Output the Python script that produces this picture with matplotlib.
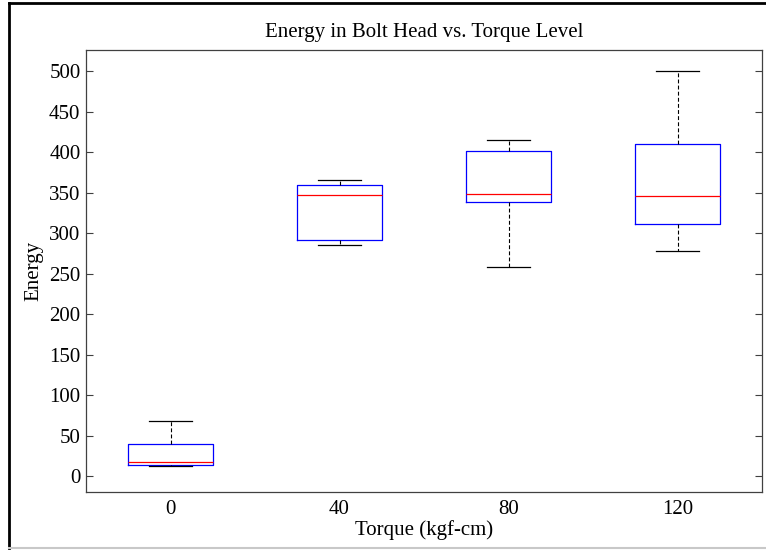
import matplotlib
matplotlib.use("Agg")
import matplotlib.pyplot as plt
from matplotlib.lines import Line2D

plt.rcParams['font.family'] = ['Liberation Serif', 'DejaVu Serif']

torque_labels = ["0", "40", "80", "120"]
whislo = [13, 285, 258, 278]
q1 = [14.5, 291, 338, 311]
med = [17.5, 347, 348, 345.5]
q3 = [39.5, 360, 401, 410]
whishi = [68.5, 365.5, 414.5, 500]

stats = []
for i, lab in enumerate(torque_labels):
    stats.append(dict(label=lab, whislo=whislo[i], q1=q1[i], med=med[i],
                      q3=q3[i], whishi=whishi[i], fliers=[]))

fig = plt.figure(figsize=(7.66, 5.5), dpi=100)
W, H = 766, 550
ax = fig.add_axes([86 / W, 1 - 491.5 / H, (762 - 86) / W, (491.5 - 50) / H])

ax.bxp(stats, positions=[1, 2, 3, 4], widths=0.5, showfliers=False,
       boxprops=dict(color=(0, 0, 1), linewidth=0.9),
       medianprops=dict(color=(1, 0, 0), linewidth=0.9),
       whiskerprops=dict(color='black', linestyle=(0, (3.5, 2)), linewidth=0.8),
       capprops=dict(color='black', linewidth=0.9),
       capwidths=0.25)

ax.set_xlim(0.5, 4.5)
ax.set_ylim(-18.7, 526)
ax.set_yticks(range(0, 501, 50))
ax.set_xticks([1, 2, 3, 4])
ax.set_xticklabels(torque_labels)
ax.tick_params(axis='y', direction='in', length=5, width=0.8, color='#404040',
               labelsize=15, right=True, pad=4)
ax.tick_params(axis='x', length=0, labelsize=15, pad=6)
for s in ax.spines.values():
    s.set_color('#404040')
    s.set_linewidth(0.9)

ax.set_title("Energy in Bolt Head vs. Torque Level", fontsize=15, pad=9)
ax.set_xlabel("Torque (kgf-cm)", fontsize=15, labelpad=1)
ax.set_ylabel("Energy", fontsize=15, labelpad=4)

# outer frame
fig.add_artist(Line2D([9 / W, 9 / W], [1 - 3 / H, 1 - 548 / H], transform=fig.transFigure,
                      color='black', linewidth=2))
fig.add_artist(Line2D([9 / W, 1], [1 - 3 / H, 1 - 3 / H], transform=fig.transFigure,
                      color='black', linewidth=2))
fig.add_artist(Line2D([9 / W, 1], [1 - 548 / H, 1 - 548 / H], transform=fig.transFigure,
                      color='#c8c8c8', linewidth=1.5))

fig.savefig("out.png", dpi=100)
